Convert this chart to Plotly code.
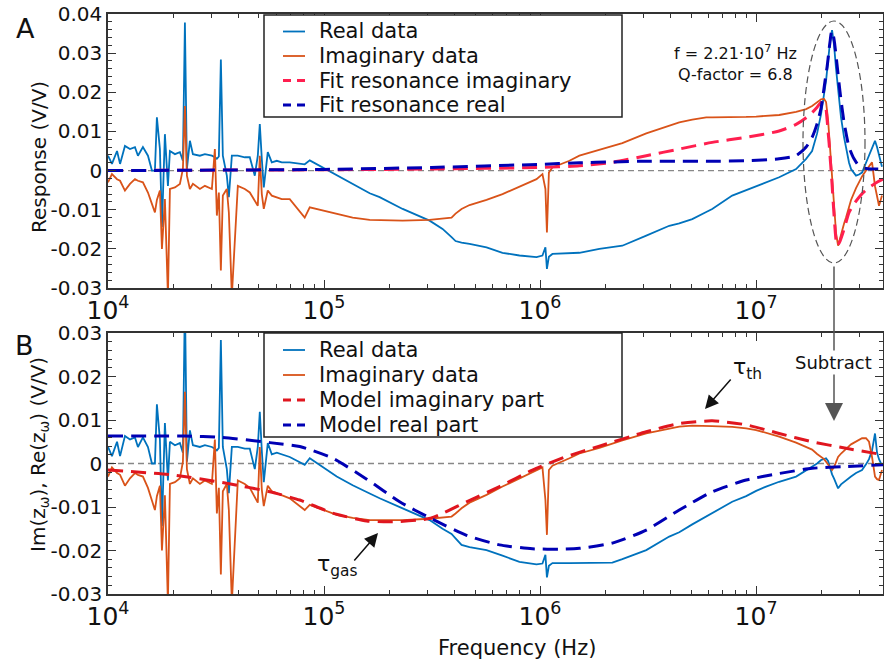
import plotly.graph_objects as go

# ---- data (frequency in Hz, response in V/V) ----
# low-frequency part with the mechanical spikes (same in both panels)
f_low = [1.000e4, 1.043e4, 1.101e4, 1.137e4, 1.198e4, 1.264e4, 1.333e4, 1.376e4, 1.451e4, 1.531e4,
         1.597e4, 1.649e4, 1.684e4, 1.739e4, 1.777e4, 1.834e4, 1.894e4, 1.935e4, 2.041e4, 2.152e4,
         2.222e4, 2.270e4, 2.319e4, 2.394e4, 2.472e4, 2.663e4, 2.809e4, 3.026e4, 3.124e4, 3.191e4,
         3.260e4, 3.330e4, 3.401e4, 3.549e4, 3.626e4, 3.744e4, 3.990e4, 4.298e4, 4.533e4, 4.781e4,
         4.937e4, 5.043e4, 5.152e4, 5.262e4, 5.491e4, 5.730e4, 6.043e4, 6.374e4]
re_low = [0.0038, 0.0017, 0.0050, 0.0017, 0.0063, 0.0055, 0.0060, 0.0038, 0.0060, 0.0038,
          0.0000, 0.0000, 0.0136, 0.0055, -0.0144, 0.0093, -0.0039, 0.0050, 0.0042, 0.0047,
          0.0025, 0.0378, 0.0004, 0.0076, 0.0042, 0.0038, 0.0042, 0.0038, 0.0034, 0.0030,
          0.0036, 0.0284, 0.0038, -0.0013, -0.0068, 0.0038, 0.0038, 0.0034, 0.0034, -0.0013,
          0.0038, 0.0119, 0.0030, -0.0043, 0.0047, 0.0021, 0.0025, 0.0021]
im_low = [-0.0030, -0.0009, -0.0022, -0.0026, -0.0051, -0.0034, -0.0022, -0.0026, -0.0030, -0.0056,
          -0.0085, -0.0107, -0.0075, -0.0051, -0.0200, -0.0073, -0.0320, -0.0047, -0.0043, -0.0034,
          0.0004, 0.0165, -0.0013, -0.0047, -0.0034, -0.0047, -0.0039, -0.0047, 0.0055, -0.0115,
          -0.0056, -0.0255, -0.0064, -0.0047, -0.0107, -0.0320, -0.0039, -0.0047, -0.0056, -0.0077,
          -0.0090, 0.0038, -0.0060, -0.0098, -0.0051, -0.0064, -0.0068, -0.0073]

# higher frequencies
f_hi = [6.94e4, 8.14e4, 8.59e4, 1.145e5, 1.357e5, 1.627e5, 1.809e5, 2.312e5, 3.081e5, 3.538e5,
        3.894e5, 4.063e5, 4.331e5, 4.717e5, 5.653e5, 6.703e5, 8.03e5, 9.63e5, 1.026e6, 1.059e6,
        1.076e6, 1.099e6, 1.141e6, 1.368e6, 1.521e6, 1.882e6, 2.161e6, 2.404e6, 3.103e6, 3.964e6,
        4.41e6, 5.066e6, 5.88e6, 6.266e6, 7.754e6, 9.0e6, 1.001e7, 1.113e7, 1.279e7, 1.532e7,
        1.705e7, 1.817e7, 1.917e7, 2.0e7, 2.064e7, 2.109e7, 2.154e7, 2.201e7, 2.248e7, 2.297e7,
        2.346e7, 2.397e7, 2.474e7, 2.555e7, 2.609e7, 2.694e7, 2.752e7, 2.902e7, 2.997e7, 3.094e7,
        3.228e7, 3.333e7, 3.442e7, 3.553e7, 3.63e7, 3.708e7, 3.828e7]
re_a_hi = [0.0021, 0.0016, 0.0026, -0.0012, -0.0034, -0.0058, -0.0068, -0.0098, -0.0128, -0.0149,
           -0.0170, -0.0180, -0.0184, -0.0187, -0.0196, -0.0210, -0.0217, -0.0221, -0.0217, -0.0196,
           -0.0251, -0.0220, -0.0213, -0.0210, -0.0210, -0.0200, -0.0196, -0.0192, -0.0166, -0.0141,
           -0.0135, -0.0124, -0.0106, -0.0098, -0.0064, -0.0050, -0.0039, -0.0030, -0.0017, 0.0004,
           0.0030, 0.0050, 0.0095, 0.0145, 0.0190, 0.0230, 0.0280, 0.0330, 0.0359, 0.0320,
           0.0260, 0.0210, 0.0135, 0.0085, 0.0055, 0.0020, 0.0004, -0.0013, -0.0010, -0.0005,
           0.0020, 0.0038, 0.0060, 0.0076, 0.0060, 0.0038, 0.0010]
im_a_hi = [-0.0073, -0.0120, -0.0094, -0.0111, -0.0120, -0.0126, -0.0127, -0.0128, -0.0126, -0.0123,
           -0.0120, -0.0110, -0.0098, -0.0088, -0.0075, -0.0060, -0.0042, -0.0022, -0.0009, -0.0047,
           -0.0158, -0.0005, 0.0008, 0.0025, 0.0038, 0.0052, 0.0063, 0.0070, 0.0095, 0.0115,
           0.0123, 0.0130, 0.0136, 0.0136, 0.0136, 0.0137, 0.0138, 0.0140, 0.0142, 0.0150,
           0.0157, 0.0165, 0.0175, 0.0182, 0.0183, 0.0175, 0.0130, 0.0060, -0.0030, -0.0100,
           -0.0160, -0.0192, -0.0160, -0.0135, -0.0120, -0.0090, -0.0075, -0.0045, -0.0030, -0.0015,
           0.0000, 0.0012, 0.0021, -0.0040, -0.0070, -0.0090, -0.0064]
re_b_hi = [0.0015, -0.0003, 0.0012, -0.0030, -0.0050, -0.0069, -0.0080, -0.0103, -0.0130, -0.0150,
           -0.0162, -0.0172, -0.0187, -0.0192, -0.0199, -0.0212, -0.0226, -0.0232, -0.0230, -0.0210,
           -0.0262, -0.0235, -0.0229, -0.0229, -0.0229, -0.0229, -0.0228, -0.0220, -0.0199, -0.0168,
           -0.0158, -0.0140, -0.0122, -0.0113, -0.0088, -0.0075, -0.0063, -0.0053, -0.0042, -0.0030,
           -0.0015, -0.0008, 0.0000, 0.0008, 0.0010, 0.0012, 0.0006, -0.0010, -0.0025, -0.0035,
           -0.0045, -0.0057, -0.0048, -0.0042, -0.0038, -0.0034, -0.0030, -0.0022, -0.0018, -0.0015,
           -0.0002, 0.0010, 0.0030, 0.0069, 0.0025, 0.0010, -0.0005]
im_b_hi = [-0.0080, -0.0107, -0.0095, -0.0118, -0.0125, -0.0130, -0.0130, -0.0130, -0.0127, -0.0124,
           -0.0122, -0.0115, -0.0103, -0.0090, -0.0072, -0.0053, -0.0035, -0.0017, -0.0009, -0.0084,
           -0.0164, -0.0015, -0.0005, 0.0012, 0.0023, 0.0036, 0.0046, 0.0053, 0.0069, 0.0080,
           0.0085, 0.0087, 0.0087, 0.0086, 0.0084, 0.0081, 0.0077, 0.0070, 0.0062, 0.0048,
           0.0039, 0.0032, 0.0022, 0.0016, 0.0010, 0.0004, -0.0003, -0.0010, -0.0015, -0.0008,
           0.0005, 0.0015, 0.0023, 0.0030, 0.0035, 0.0040, 0.0044, 0.0050, 0.0054, 0.0058,
           0.0058, 0.0050, 0.0015, -0.0030, -0.0036, -0.0038, -0.0015]

# resonance fit (panel A)
f_fit = [1.0e4, 2.663e4, 1.0e5, 3.148e5, 1.0e6, 1.521e6, 2.161e6, 3.103e6, 4.41e6, 6.266e6,
         9.0e6, 1.279e7, 1.532e7, 1.705e7, 1.817e7, 1.917e7, 2.0e7, 2.087e7, 2.132e7, 2.154e7,
         2.178e7, 2.201e7, 2.225e7, 2.248e7, 2.297e7, 2.371e7, 2.448e7, 2.555e7, 2.694e7, 2.841e7,
         2.997e7, 3.194e7, 3.404e7, 3.63e7, 3.87e7]
fit_re = [0.0000, 0.0001, 0.0003, 0.0008, 0.0016, 0.0020, 0.0022, 0.0024, 0.0024, 0.0024,
          0.0025, 0.0030, 0.0038, 0.0060, 0.0085, 0.0120, 0.0160, 0.0230, 0.0265, 0.0285,
          0.0310, 0.0330, 0.0350, 0.0357, 0.0335, 0.0270, 0.0200, 0.0123, 0.0060, 0.0030,
          0.0012, 0.0006, 0.0004, 0.0004, 0.0004]
fit_im = [0.0000, 0.0001, 0.0002, 0.0004, 0.0008, 0.0012, 0.0021, 0.0038, 0.0055, 0.0072,
          0.0085, 0.0101, 0.0118, 0.0135, 0.0148, 0.0162, 0.0174, 0.0168, 0.0130, 0.0100,
          0.0070, 0.0035, 0.0000, -0.0035, -0.0115, -0.0192, -0.0180, -0.0150, -0.0107, -0.0085,
          -0.0068, -0.0052, -0.0040, -0.0030, -0.0022]

# thermal model (panel B)
f_mod_re = [1.0e4, 2.27e4, 3.365e4, 5.61e4, 7.72e4, 1.097e5, 1.576e5, 2.239e5, 3.114e5, 4.568e5,
            6.492e5, 9.22e5, 1.269e6, 1.521e6, 2.161e6, 3.103e6, 4.41e6, 6.266e6, 9.0e6, 1.279e7,
            1.817e7, 2.609e7, 3.87e7]
mod_re = [0.0063, 0.0063, 0.0060, 0.0048, 0.0039, 0.0012, -0.0036, -0.0088, -0.0126, -0.0165,
          -0.0187, -0.0196, -0.0197, -0.0195, -0.0183, -0.0153, -0.0107, -0.0065, -0.0038, -0.0023,
          -0.0011, -0.0007, -0.0003]
f_mod_im = [1.0e4, 1.976e4, 3.587e4, 5.61e4, 7.72e4, 1.097e5, 1.576e5, 2.078e5, 3.114e5, 4.568e5,
            6.492e5, 9.22e5, 1.325e6, 1.882e6, 3.103e6, 4.41e6, 6.266e6, 9.0e6, 1.279e7, 1.817e7,
            2.609e7, 3.87e7]
mod_im = [-0.0015, -0.0026, -0.0046, -0.0065, -0.0084, -0.0114, -0.0132, -0.0134, -0.0126, -0.0088,
          -0.0053, -0.0015, 0.0016, 0.0040, 0.0073, 0.0092, 0.0098, 0.0089, 0.0069, 0.0050,
          0.0035, 0.0020]

y_ticks_a = [-0.03, -0.02, -0.01, 0, 0.01, 0.02, 0.03, 0.04]
y_ticks_b = [-0.03, -0.02, -0.01, 0, 0.01, 0.02, 0.03]

freq = f_low + f_hi
real_a = re_low + re_a_hi
imag_a = im_low + im_a_hi
real_b = re_low + re_b_hi
imag_b = im_low + im_b_hi

W, H = 884, 666
FONT = "DejaVu Sans"
BLUE = "#0072BD"
ORANGE = "#D95319"
RED_A = "#FF1F4F"
RED_B = "#E0161F"
NAVY = "#0000B4"
DASH = "15px,8px"


def px(x):
    return x / W


def py(y):
    return 1 - y / H


fig = go.Figure()

# (name, x, y, colour, dashed)
series_a = [("Real data", freq, real_a, BLUE, False),
            ("Imaginary data", freq, imag_a, ORANGE, False),
            ("Fit resonance imaginary", f_fit, fit_im, RED_A, True),
            ("Fit resonance real", f_fit, fit_re, NAVY, True)]
series_b = [("Real data", freq, real_b, BLUE, False),
            ("Imaginary data", freq, imag_b, ORANGE, False),
            ("Model imaginary part", f_mod_im, mod_im, RED_B, True),
            ("Model real part", f_mod_re, mod_re, NAVY, True)]

for series, xa, ya in [(series_a, "x", "y"), (series_b, "x2", "y2")]:
    for name, xs, ys, col, dashed in series:
        if dashed:
            line = dict(color=col, width=3, dash=DASH, shape="spline", smoothing=0.6)
        else:
            line = dict(color=col, width=1.8)
        fig.add_trace(go.Scatter(x=xs, y=ys, mode="lines", name=name, line=line,
                                 xaxis=xa, yaxis=ya, showlegend=False))

axis_style = dict(showline=True, linecolor="#333", linewidth=1.5, mirror="ticks",
                  ticks="inside", ticklen=8, tickwidth=1.2, tickcolor="#333",
                  showgrid=False, zeroline=False, automargin=False,
                  tickfont=dict(family=FONT, size=20, color="#111"))
x_style = dict(axis_style, type="log", range=[4, 7.5876], dtick=1, exponentformat="power",
               minor=dict(ticks="inside", ticklen=4, tickcolor="#333", dtick="D1", showgrid=False))


def y_style(vals, lo, hi):
    return dict(axis_style, range=[lo, hi], tickvals=vals,
                ticktext=["0" if v == 0 else f"{v:.2f}" for v in vals],
                minor=dict(ticks="inside", ticklen=4, tickcolor="#333", dtick=0.002, showgrid=False))


fig.update_layout(
    width=W, height=H,
    margin=dict(l=0, r=0, t=0, b=0),
    paper_bgcolor="white", plot_bgcolor="white",
    font=dict(family=FONT, color="#111"),
    xaxis=dict(x_style, domain=[px(108), px(883)], anchor="y"),
    yaxis=dict(y_style(y_ticks_a, -0.03, 0.04), domain=[py(288), py(14)], anchor="x"),
    xaxis2=dict(x_style, domain=[px(108), px(883)], anchor="y2"),
    yaxis2=dict(y_style(y_ticks_b, -0.03, 0.03), domain=[py(594), py(333)], anchor="x2"),
    showlegend=False,
)

# zero lines
for xr, yr in [("x domain", "y"), ("x2 domain", "y2")]:
    fig.add_shape(type="line", xref=xr, x0=0, x1=1, yref=yr, y0=0, y1=0,
                  line=dict(color="#888", width=1.3, dash="6px,4px"), layer="below")

# legend boxes, drawn by hand so the row spacing matches
for series, box_top, box_bottom, rows in [(series_a, 15, 117, [31.5, 56, 80.5, 105]),
                                          (series_b, 333, 437, [350, 375, 400, 425])]:
    fig.add_shape(type="rect", xref="paper", yref="paper", x0=px(264), x1=px(622),
                  y0=py(box_bottom), y1=py(box_top),
                  line=dict(color="#222", width=1.5), fillcolor="white", layer="above")
    for (name, _, _, col, dashed), ry in zip(series, rows):
        fig.add_shape(type="line", xref="paper", yref="paper", x0=px(283), x1=px(305),
                      y0=py(ry), y1=py(ry), layer="above",
                      line=dict(color=col, width=3 if dashed else 1.8, dash="8px,6px" if dashed else "solid"))
        fig.add_annotation(x=px(317), y=py(ry), xref="paper", yref="paper", text=name, showarrow=False,
                           xanchor="left", yanchor="middle", font=dict(family=FONT, size=21, color="#111"))

# resonance ellipse
fig.add_shape(type="circle", xref="paper", yref="paper", x0=px(803), x1=px(865), y0=py(263), y1=py(21),
              line=dict(color="#555", width=1.2, dash="7px,4px"))

# arrows
fig.add_annotation(x=px(834), y=py(421), xref="paper", yref="paper", text="", showarrow=True,
                   ax=0, ay=-156, arrowhead=2, arrowsize=2.4, arrowwidth=1.5, arrowcolor="#555")
fig.add_annotation(x=px(705), y=py(409), xref="paper", yref="paper", text="", showarrow=True,
                   ax=27, ay=-31, arrowhead=2, arrowsize=1.8, arrowwidth=1.5, arrowcolor="#111")
fig.add_annotation(x=px(378), y=py(533), xref="paper", yref="paper", text="", showarrow=True,
                   ax=-25, ay=29, arrowhead=2, arrowsize=1.8, arrowwidth=1.5, arrowcolor="#111")

# texts
texts = [
    ("A", 25, 28, 27, "center", 0),
    ("B", 24, 345, 27, "center", 0),
    ("Response (V/V)", 39, 157, 20, "center", -90),
    ("Im(z<sub>ω</sub>), Re(z<sub>ω</sub>) (V/V)", 39, 455, 20, "center", -90),
    ("Frequency (Hz)", 517, 648, 21, "center", 0),
    ("f = 2.21·10<sup>7</sup> Hz", 735, 52, 16, "center", 0),
    ("Q-factor = 6.8", 735, 74, 16, "center", 0),
    ("τ<sub>th</sub>", 731, 368, 22, "left", 0),
    ("τ<sub>gas</sub>", 315, 565, 22, "left", 0),
]
for t, x, y, s, xa, ang in texts:
    fig.add_annotation(x=px(x), y=py(y), xref="paper", yref="paper", text=t, showarrow=False,
                       xanchor=xa, yanchor="middle", textangle=ang,
                       font=dict(family=FONT, size=s, color="#111"))
fig.add_annotation(x=px(833.5), y=py(362), xref="paper", yref="paper", text="Subtract", showarrow=False,
                   xanchor="center", yanchor="middle", bgcolor="white", borderpad=1,
                   font=dict(family=FONT, size=18, color="#111"))

# the page body has a default 8px margin; remove it so the figure fills the window
fig.write_html("out.html", config={"displayModeBar": False},
               post_script="document.body.style.margin='0px';")
